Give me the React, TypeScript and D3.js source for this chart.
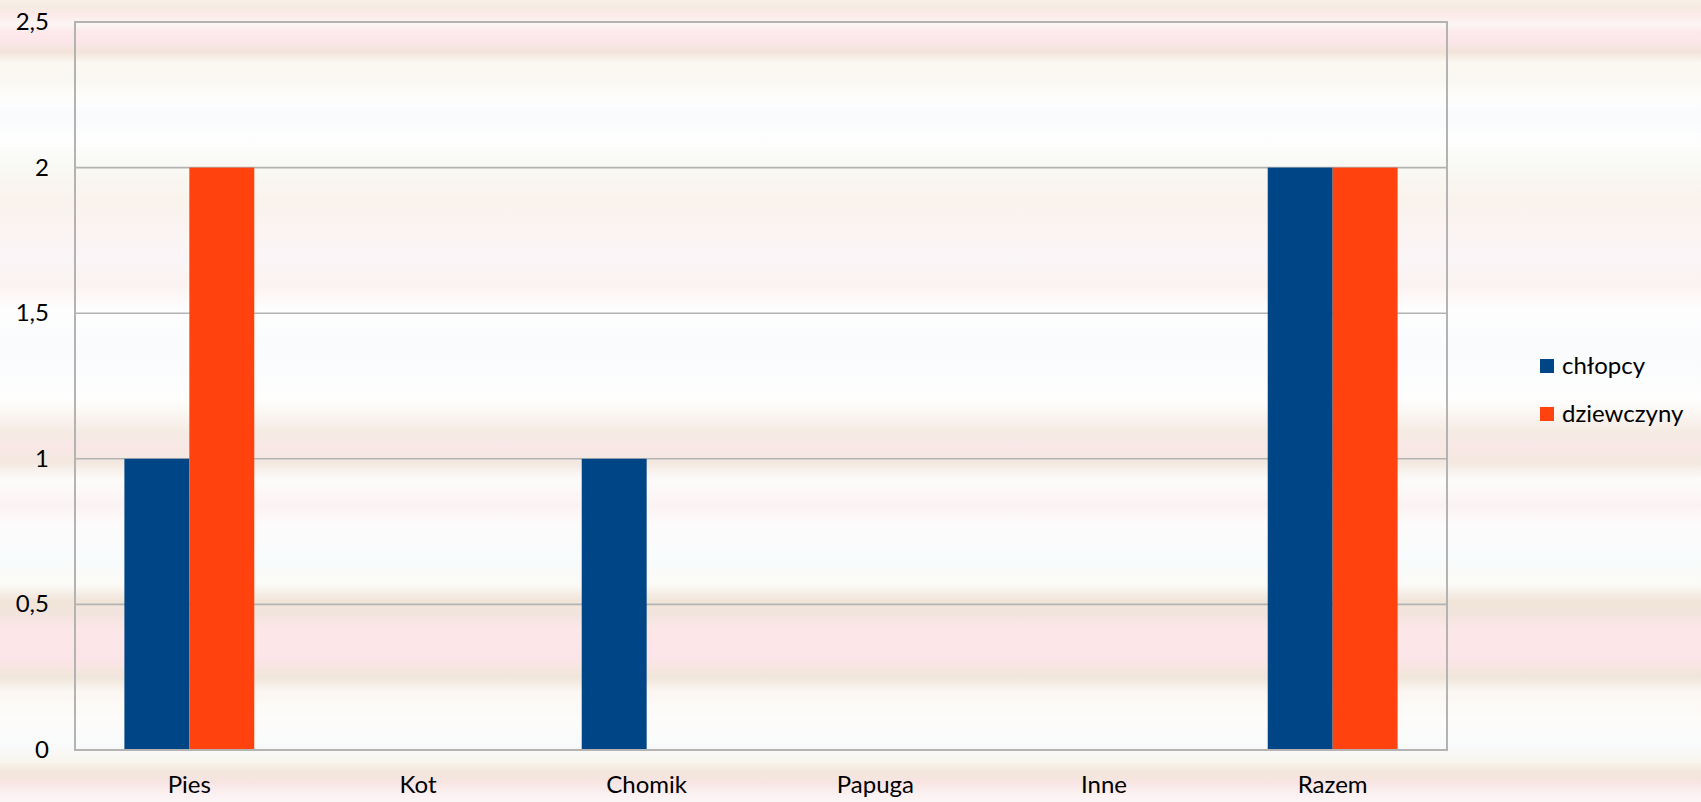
import React from "react";
import * as d3 from "d3";

const categories = ["Pies", "Kot", "Chomik", "Papuga", "Inne", "Razem"];
const seriesNames = ["chłopcy", "dziewczyny"];
const chlopcy = [1, 0, 1, 0, 0, 2];
const dziewczyny = [2, 0, 0, 0, 0, 2];
const yTicks = [0, 0.5, 1, 1.5, 2, 2.5];
const colors = ["#004586", "#ff420e"];

const W = 1701;
const H = 802;
const M = { left: 75, right: 1447, top: 22, bottom: 750 };
const FONT = "Lato, 'Open Sans', sans-serif";
const FS = 24;

// background stripe stops: [y in px, colour]
const bgStops: [number, string][] = [
  [0, "#f8f1e7"], [6, "#f6ece4"], [14, "#fbe9e7"], [24, "#fcf6f4"], [32, "#fde9ec"],
  [42, "#fce6e9"], [52, "#f2e4da"], [62, "#fbf7f1"], [80, "#faf8f2"], [100, "#fefefd"],
  [115, "#f8fafc"], [140, "#fefefe"], [165, "#f9f9f5"], [200, "#f9f3ec"], [230, "#fbf4f3"],
  [260, "#faf5f7"], [285, "#fbf3f1"], [310, "#fefefe"], [350, "#f9fbfd"], [400, "#fefefd"],
  [432, "#f5ebe3"], [448, "#f8e7e6"], [462, "#f3e8df"], [480, "#fdfcfb"], [505, "#fbf3f3"],
  [525, "#fdfbfb"], [560, "#f8fbfc"], [585, "#fbfaf6"], [600, "#f1e5d9"], [615, "#f2e4de"],
  [630, "#fde7e9"], [660, "#fce5e8"], [677, "#f0e6da"], [692, "#fbf7f3"], [720, "#fdfcfa"],
  [745, "#f8fafb"], [760, "#f9f6ef"], [772, "#f3e6dc"], [782, "#f7e4e2"], [795, "#fbf2f3"],
  [802, "#fcf5f6"],
];

export default function App() {
  const x0 = d3.scaleBand<string>().domain(categories).range([M.left, M.right]).padding(0);
  const bw = x0.bandwidth();
  const groupFrac = 0.568;
  const x1 = d3
    .scaleBand<string>()
    .domain(seriesNames)
    .range([bw * (1 - groupFrac) / 2, bw * (1 + groupFrac) / 2])
    .padding(0);
  const y = d3.scaleLinear().domain([0, 2.5]).range([M.bottom, M.top]);
  const values = [chlopcy, dziewczyny];
  const fmt = (v: number) => String(v).replace(".", ",");

  return (
    <svg
      width={W}
      height={H}
      style={{ position: "absolute", left: 0, top: 0, display: "block" }}
      fontFamily={FONT}
    >
      <defs>
        <linearGradient id="bg" x1="0" y1="0" x2="0" y2={H} gradientUnits="userSpaceOnUse">
          {bgStops.map(([yy, c], i) => (
            <stop key={i} offset={yy / H} stopColor={c} />
          ))}
        </linearGradient>
      </defs>
      <rect x={0} y={0} width={W} height={H} fill="url(#bg)" />

      {/* grid lines */}
      {yTicks.map((t) => (
        <line
          key={t}
          x1={M.left}
          x2={M.right}
          y1={y(t)}
          y2={y(t)}
          stroke="#b3b3b3"
          strokeWidth={1.6}
        />
      ))}

      {/* bars */}
      {seriesNames.map((s, si) =>
        categories.map((c, ci) => {
          const v = values[si][ci];
          if (v <= 0) return null;
          return (
            <rect
              key={s + c}
              x={(x0(c) ?? 0) + (x1(s) ?? 0)}
              y={y(v)}
              width={x1.bandwidth()}
              height={y(0) - y(v)}
              fill={colors[si]}
            />
          );
        })
      )}

      {/* plot frame */}
      <rect
        x={M.left}
        y={M.top}
        width={M.right - M.left}
        height={M.bottom - M.top}
        fill="none"
        stroke="#b3b3b3"
        strokeWidth={2}
      />

      {/* y tick labels */}
      {yTicks.map((t) => (
        <text
          key={t}
          x={49}
          y={y(t) + 2}
          textAnchor="end"
          dominantBaseline="middle"
          fontSize={FS}
          fill="#000"
        >
          {fmt(t)}
        </text>
      ))}

      {/* x labels */}
      {categories.map((c) => (
        <text
          key={c}
          x={(x0(c) ?? 0) + bw / 2}
          y={793}
          textAnchor="middle"
          fontSize={FS}
          fill="#000"
        >
          {c}
        </text>
      ))}

      {/* legend */}
      {seriesNames.map((s, i) => (
        <g key={s} transform={`translate(1540, ${359 + i * 48})`}>
          <rect x={0} y={0} width={14} height={14} fill={colors[i]} />
          <text x={22} y={15} fontSize={FS} fill="#000">
            {s}
          </text>
        </g>
      ))}
    </svg>
  );
}
